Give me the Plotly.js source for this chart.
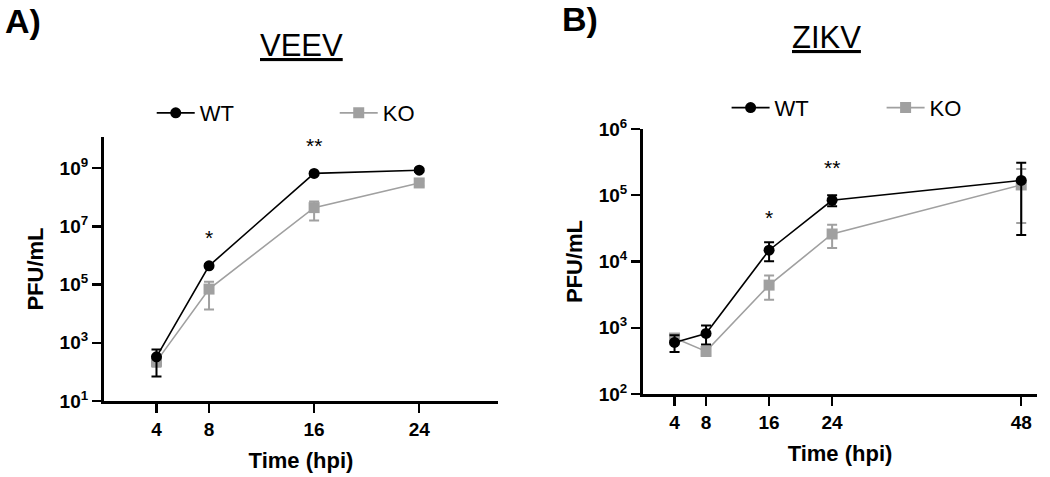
<!DOCTYPE html>
<html>
<head>
<meta charset="utf-8">
<script src="https://cdn.plot.ly/plotly-3.0.1.min.js"></script>
<style>
  html, body { margin: 0; padding: 0; background: #fff; }
  #chart { width: 1050px; height: 477px; }
</style>
</head>
<body>
<div id="chart"></div>
<script>
// ---------- data ----------
const timesA = [4, 8, 16, 24];
const wtA    = [330, 4.4e5, 6.6e8, 8.5e8];
const wtAsd  = [260, 5e4, 5e7, 1e8];
const koA    = [230, 7e4, 4.4e7, 3.1e8];
const koAsd  = [80, 5.6e4, 2.8e7, 6e7];
const sigA   = ['', '*', '**', ''];

const timesB = [4, 8, 16, 24, 48];
const wtB    = [600, 820, 1.48e4, 8.4e4, 1.67e5];
const wtBsd  = [170, 260, 4.7e3, 1.6e4, 1.42e5];
const koB    = [700, 440, 4.4e3, 2.6e4, 1.43e5];
const koBsd  = [100, 65, 1.75e3, 1e4, 1.05e5];
const sigB   = ['', '', '*', '**', ''];

const xTicksA = [4, 8, 16, 24];
const xTicksB = [4, 8, 16, 24, 48];
const yTicksA = [1e1, 1e3, 1e5, 1e7, 1e9];
const yTicksB = [1e2, 1e3, 1e4, 1e5, 1e6];
const pow = v => '10<sup>' + Math.round(Math.log10(v)) + '</sup>';

// ---------- styles ----------
const FONT = 'Arial, "Liberation Sans", Helvetica, sans-serif';
const BLACK = '#000000';
const GREY = '#a0a0a0';

function series(x, y, sd, name, color, symbol, xa, ya, legend) {
  return {
    type: 'scatter', mode: 'lines+markers',
    x: x, y: y, name: name,
    xaxis: xa, yaxis: ya, legend: legend, showlegend: true,
    legendrank: name === 'WT' ? 1 : 2,
    line: {color: color, width: 1.6},
    marker: {color: color, size: 11, symbol: symbol},
    error_y: {type: 'data', array: sd, visible: true, color: color, thickness: 2, width: 5}
  };
}

const traces = [
  series(timesA, koA, koAsd, 'KO', GREY, 'square', 'x', 'y', 'legend'),
  series(timesA, wtA, wtAsd, 'WT', BLACK, 'circle', 'x', 'y', 'legend'),
  series(timesB, koB, koBsd, 'KO', GREY, 'square', 'x2', 'y2', 'legend2'),
  series(timesB, wtB, wtBsd, 'WT', BLACK, 'circle', 'x2', 'y2', 'legend2')
];

function xaxis(domain, range, ticks, anchor) {
  return {
    domain: domain, range: range, anchor: anchor,
    tickmode: 'array', tickvals: ticks, ticktext: ticks.map(String),
    showgrid: false, zeroline: false,
    showline: true, linecolor: BLACK, linewidth: 3,
    ticks: 'outside', ticklen: 9, tickwidth: 2.5, tickcolor: BLACK,
    tickfont: {family: FONT, size: 19, color: BLACK, weight: 'bold'},
    title: {text: 'Time (hpi)', font: {family: FONT, size: 22, color: BLACK, weight: 'bold'}, standoff: 14}
  };
}
function yaxis(domain, range, ticks, anchor) {
  return {
    domain: domain, type: 'log', range: range, anchor: anchor,
    tickmode: 'array', tickvals: ticks, ticktext: ticks.map(pow),
    showgrid: false, zeroline: false,
    showline: true, linecolor: BLACK, linewidth: 3,
    ticks: 'outside', ticklen: 9, tickwidth: 2.5, tickcolor: BLACK,
    tickfont: {family: FONT, size: 19, color: BLACK, weight: 'bold'},
    title: {text: 'PFU/mL', font: {family: FONT, size: 22, color: BLACK, weight: 'bold'}, standoff: 10}
  };
}

const annotations = [];
function stars(x, y, labels, xref, yref, shift) {
  labels.forEach((s, i) => {
    if (!s) return;
    annotations.push({
      x: x[i], y: Math.log10(y[i]), xref: xref, yref: yref,
      text: s, showarrow: false, yshift: shift,
      font: {family: FONT, size: 21, color: BLACK}
    });
  });
}
stars(timesA, wtA, sigA, 'x', 'y', 28);
stars(timesB, wtB, sigB, 'x2', 'y2', 33);

annotations.push(
  {xref: 'paper', yref: 'paper', x: 0.003, y: 0.955, xanchor: 'left', yanchor: 'middle',
   text: '<b>A)</b>', showarrow: false, font: {family: FONT, size: 34, color: BLACK}},
  {xref: 'paper', yref: 'paper', x: 0.533, y: 0.96, xanchor: 'left', yanchor: 'middle',
   text: '<b>B)</b>', showarrow: false, font: {family: FONT, size: 34, color: BLACK}},
  {xref: 'paper', yref: 'paper', x: 0.2867, y: 0.905, xanchor: 'center', yanchor: 'middle',
   text: 'VEEV', showarrow: false, font: {family: FONT, size: 31, color: BLACK, lineposition: 'under'}},
  {xref: 'paper', yref: 'paper', x: 0.7876, y: 0.922, xanchor: 'center', yanchor: 'middle',
   text: 'ZIKV', showarrow: false, font: {family: FONT, size: 31, color: BLACK, lineposition: 'under'}}
);

const legendStyle = (x, y, w) => ({
  orientation: 'h', x: x, y: y, xanchor: 'left', yanchor: 'middle',
  xref: 'paper', yref: 'paper',
  itemwidth: 38,
  entrywidth: w, entrywidthmode: 'pixels',
  bgcolor: 'rgba(0,0,0,0)', borderwidth: 0,
  font: {family: FONT, size: 22, color: BLACK}
});

const layout = {
  width: 1050, height: 477,
  margin: {l: 0, r: 0, t: 0, b: 0},
  paper_bgcolor: '#ffffff', plot_bgcolor: '#ffffff',
  showlegend: true,
  xaxis: xaxis([0.0990, 0.4743], [0, 30], xTicksA, 'y'),
  yaxis: yaxis([0.1593, 0.7128], [1, 10.07], yTicksA, 'x'),
  xaxis2: xaxis([0.6124, 0.9876], [0, 50], xTicksB, 'y2'),
  yaxis2: yaxis([0.1740, 0.7296], [2, 6], yTicksB, 'x2'),
  legend: legendStyle(0.1445, 0.763, 130),
  legend2: legendStyle(0.692, 0.774, 102),
  annotations: annotations
};

Plotly.newPlot('chart', traces, layout, {displayModeBar: false, staticPlot: true});
</script>
</body>
</html>
